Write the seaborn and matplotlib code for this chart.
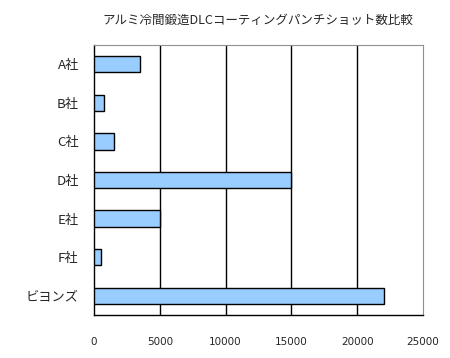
import matplotlib
matplotlib.use("Agg")
import matplotlib.pyplot as plt
import seaborn as sns
import pandas as pd
import numpy as np

categories = ["A社", "B社", "C社", "D社", "E社", "F社", "ビヨンズ"]
shots = [3500, 750, 1500, 15000, 5000, 500, 22000]
xticks = [0, 5000, 10000, 15000, 20000, 25000]
title = "アルミ冷間鍛造DLCコーティングパンチショット数比較"

sns.set_style("white")
plt.rcParams['font.family'] = ['Noto Sans CJK JP', 'DejaVu Sans']

df = pd.DataFrame({"company": categories, "shots": shots})

fig = plt.figure(figsize=(4.5, 3.58), dpi=100)
ax = fig.add_axes([94/450, 1-315/358, (423-94)/450, (315-45)/358])
sns.barplot(data=df, y="company", x="shots", orient="h", color="#99CCFF",
            edgecolor="black", linewidth=1, width=0.42, saturation=1, ax=ax, zorder=3)

ax.set_xlim(0, 25000)
ax.set_ylim(6.5, -0.5)
ax.set_xticks(xticks)
ax.set_xticklabels([str(v) for v in xticks], fontsize=7.5, family=['DejaVu Sans'])
ax.tick_params(axis='x', length=0, pad=16)
ax.tick_params(axis='y', which='major', length=0, pad=11, labelsize=9.5)
ax.set_yticks(np.arange(-0.5, 7, 1), minor=True)
ax.tick_params(axis='y', which='minor', direction='in', length=5, width=1, color='black')
for v in xticks[1:-1]:
    ax.axvline(v, color='black', linewidth=1, zorder=1)
ax.set_xlabel("")
ax.set_ylabel("")
for s in ['top', 'right']:
    ax.spines[s].set_color('#909090')
    ax.spines[s].set_linewidth(0.8)
for s in ['left', 'bottom']:
    ax.spines[s].set_color('black')
    ax.spines[s].set_linewidth(1)
fig.text(258/450, 1-20/358, title, ha='center', va='center', fontsize=9)
fig.savefig("out.png", dpi=100)
